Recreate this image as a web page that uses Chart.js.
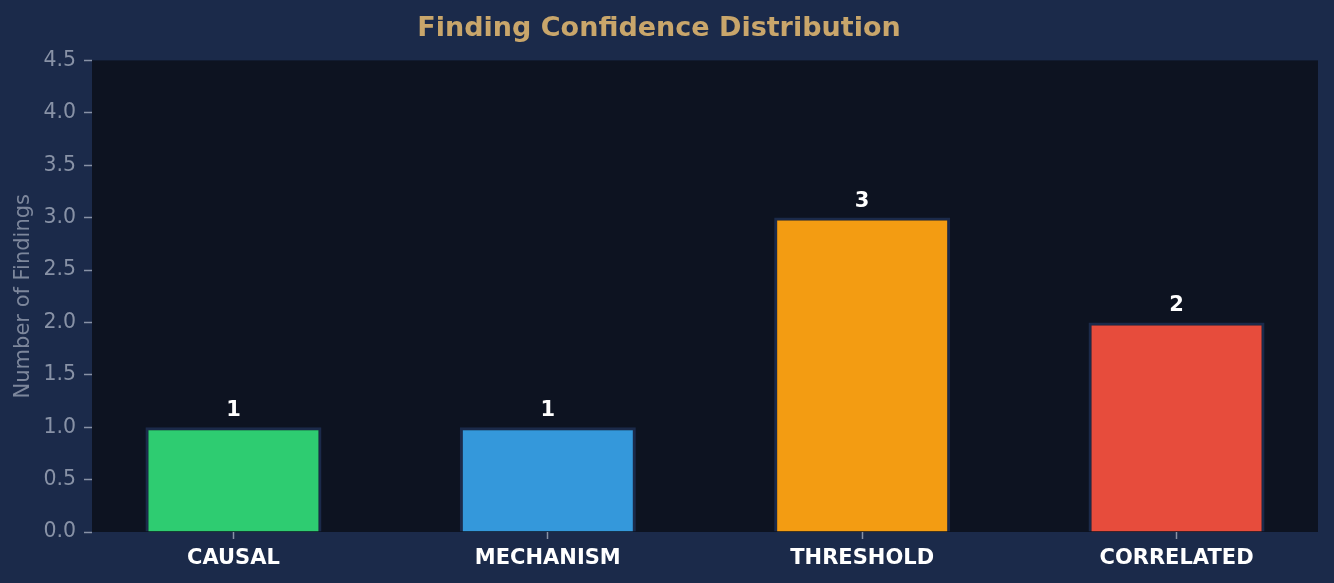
<!DOCTYPE html>
<html>
<head>
<meta charset="utf-8">
<script src="https://cdn.jsdelivr.net/npm/chart.js@4/dist/chart.umd.min.js"></script>
<style>
  html, body { margin: 0; padding: 0; background: #1b2a4a; }
  #wrap { width: 1334px; height: 583px; }
</style>
</head>
<body>
<div id="wrap"><canvas id="chart"></canvas></div>
<script>
var categories = ['CAUSAL', 'MECHANISM', 'THRESHOLD', 'CORRELATED'];
var counts = [1, 1, 3, 2];
var barColors = ['#2ecc71', '#3498db', '#f39c12', '#e74c3c'];
var yTicks = [0, 0.5, 1, 1.5, 2, 2.5, 3, 3.5, 4, 4.5];

var FONT = "'DejaVu Sans', sans-serif";

// dark plot background
var plotBg = {
    id: 'plotBg',
    beforeDraw: function (chart) {
        var a = chart.chartArea, ctx = chart.ctx;
        ctx.save();
        ctx.fillStyle = '#0d1321';
        ctx.fillRect(a.left, a.top, a.right - a.left, a.bottom - a.top);
        ctx.restore();
    }
};

// numbers above the bars
var valueLabels = {
    id: 'valueLabels',
    afterDatasetsDraw: function (chart) {
        var ctx = chart.ctx;
        var meta = chart.getDatasetMeta(0);
        ctx.save();
        ctx.font = 'bold 21px ' + FONT;
        ctx.fillStyle = '#ffffff';
        ctx.textAlign = 'center';
        ctx.textBaseline = 'bottom';
        meta.data.forEach(function (bar, i) {
            ctx.fillText(String(counts[i]), bar.x, bar.y - 6);
        });
        ctx.restore();
    }
};

new Chart(document.getElementById('chart'), {
    type: 'bar',
    data: {
        datasets: [{
            data: counts.map(function (v, i) { return { x: i, y: v }; }),
            backgroundColor: barColors,
            borderColor: '#1b2a4a',
            borderWidth: 3,
            borderSkipped: 'start',
            barPercentage: 0.56,
            categoryPercentage: 1
        }]
    },
    options: {
        responsive: true,
        maintainAspectRatio: false,
        animation: false,
        layout: { padding: { left: 0, right: 16, top: 0, bottom: 0 } },
        plugins: {
            legend: { display: false },
            tooltip: { enabled: false },
            title: {
                display: true,
                text: 'Finding Confidence Distribution',
                color: '#c9a66b',
                font: { family: FONT, size: 27, weight: 'bold' },
                padding: { top: 13, bottom: 15 }
            }
        },
        scales: {
            x: {
                type: 'linear',
                offset: false,
                min: -0.45,
                max: 3.45,
                afterBuildTicks: function (scale) {
                    scale.ticks = categories.map(function (c, i) { return { value: i }; });
                },
                afterFit: function (scale) { scale.height = 51; },
                ticks: {
                    color: '#ffffff',
                    font: { family: FONT, size: 21, weight: 'bold' },
                    padding: 7,
                    maxRotation: 0,
                    autoSkip: false,
                    callback: function (v) { return categories[v]; }
                },
                grid: {
                    offset: false,
                    drawOnChartArea: false,
                    drawTicks: true,
                    tickLength: 7,
                    tickWidth: 1.5,
                    tickColor: '#8892a6'
                },
                border: { display: false }
            },
            y: {
                min: 0,
                max: 4.5,
                afterBuildTicks: function (scale) {
                    scale.ticks = yTicks.map(function (v) { return { value: v }; });
                },
                afterFit: function (scale) { scale.width = 92; },
                ticks: {
                    color: '#8892a6',
                    font: { family: FONT, size: 20.5 },
                    padding: 8,
                    callback: function (v) { return v.toFixed(1); }
                },
                grid: {
                    drawOnChartArea: false,
                    drawTicks: true,
                    tickLength: 8,
                    tickWidth: 1.5,
                    tickColor: '#8892a6'
                },
                border: { display: false },
                title: {
                    display: true,
                    text: 'Number of Findings',
                    color: '#7d879c',
                    font: { family: FONT, size: 21 },
                    padding: { top: 11, bottom: 0 }
                }
            }
        }
    },
    plugins: [plotBg, valueLabels]
});
</script>
</body>
</html>
